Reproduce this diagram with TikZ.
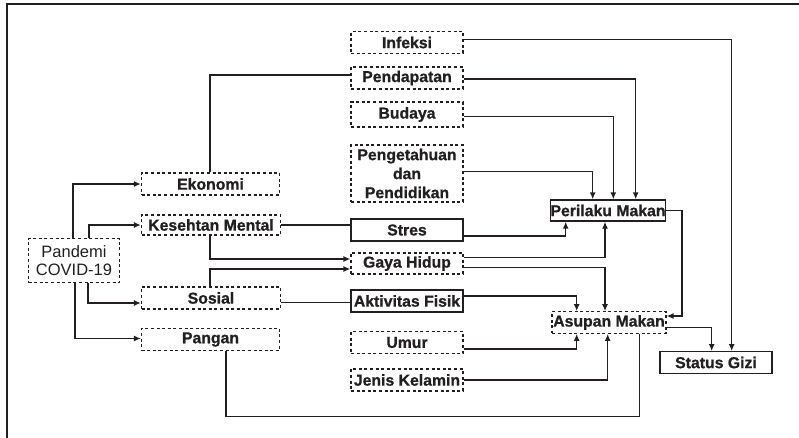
\documentclass[tikz,border=0pt]{standalone}
\usepackage{fontspec}
\setmainfont{Liberation Sans}
\newfontface\heavyface{Liberation Sans Bold}[FakeBold=0.9]
\usetikzlibrary{arrows.meta}
\definecolor{ink}{HTML}{231F20}
\newcommand\lab{\fontsize{15.8}{19}\selectfont\heavyface}
\newcommand\reg{\fontsize{16.5}{18.3}\selectfont}
\tikzset{
  dbox/.style={draw=ink, text=ink, dash pattern=on 3pt off 2.6pt, line width=1.2pt, inner sep=0pt, font=\lab, align=center},
  sbox/.style={draw=ink, text=ink, line width=1.3pt, inner sep=0pt, font=\lab, align=center},
  arr/.style={draw=ink, -{Latex[length=7pt,width=6pt]}, line width=1.4pt},
  con/.style={draw=ink, line width=1.4pt}
}
\begin{document}
\begin{tikzpicture}[x=1pt,y=-1pt]
\useasboundingbox (0,0) rectangle (799,437);
\draw[ink, line width=1.6pt] (7,440) -- (7,4) -- (802,4);

% middle column
\node[dbox, minimum width=112pt, minimum height=21.5pt] (infeksi) at (407,42.5) {Infeksi};
\node[dbox, minimum width=112pt, minimum height=22pt] (pendapatan) at (407,78) {Pendapatan};
\node[dbox, minimum width=112pt, minimum height=25pt] (budaya) at (407,114.5) {Budaya};
\node[dbox, minimum width=112pt, minimum height=57pt] (pengetahuan) at (407,173.5) {Pengetahuan\\dan\\Pendidikan};
\node[sbox, minimum width=112pt, minimum height=22pt] (stres) at (407,230) {Stres};
\node[dbox, minimum width=112pt, minimum height=21pt] (gaya) at (407,263.5) {Gaya Hidup};
\node[sbox, minimum width=112pt, minimum height=22pt] (aktivitas) at (407,301) {Aktivitas Fisik};
\node[dbox, minimum width=112pt, minimum height=22pt] (umur) at (407,342.5) {Umur};
\node[dbox, minimum width=112pt, minimum height=22pt] (jenis) at (407,380) {Jenis Kelamin};

% left column
\node[dbox, minimum width=138pt, minimum height=22pt] (ekonomi) at (210.5,184) {Ekonomi};
\node[dbox, minimum width=139pt, minimum height=20pt] (kesehatan) at (211,225) {Kesehtan Mental};
\node[dbox, minimum width=139pt, minimum height=22pt] (sosial) at (211,298) {Sosial};
\node[dbox, minimum width=138pt, minimum height=22pt] (pangan) at (210.5,339.5) {Pangan};
\node[dbox, font=\reg, minimum width=91pt, minimum height=44pt] (pandemi) at (74,260.5) {Pandemi\\COVID-19};

% right side
\node[sbox, minimum width=112pt, minimum height=21pt] (perilaku) at (608,210.5) {Perilaku Makan};
\node[dbox, minimum width=114pt, minimum height=21.5pt] (asupan) at (609,322.5) {Asupan Makan};
\node[sbox, minimum width=112pt, minimum height=21.5pt] (status) at (716,362.5) {Status Gizi};

% Pandemi branches
\draw[arr] ([xshift=-1pt]pandemi.north) |- (ekonomi.west);
\draw[arr] ([xshift=15pt]pandemi.north) |- (kesehatan.west);
\draw[arr] ([xshift=14pt]pandemi.south) |- ([yshift=-5pt]sosial.west);
\draw[arr] ([xshift=1pt]pandemi.south) |- ([yshift=1pt]pangan.west);

% left column to middle column
\draw[con] ([xshift=-0.5pt]ekonomi.north) |- ([yshift=3pt]pendapatan.west);
\draw[con] (kesehatan.east) -- (kesehatan.east -| stres.west);
\draw[arr] ([xshift=-1pt]kesehatan.south) |- ([yshift=4.5pt]gaya.west);
\draw[arr] ([xshift=-1pt]sosial.north) |- ([yshift=-5.5pt]gaya.west);
\draw[con] ([yshift=-4.5pt]sosial.east) -- ([yshift=-4.5pt]sosial.east -| aktivitas.west);
\coordinate (loopy) at (0,416.7);
\coordinate (asupB) at ([xshift=30.3pt]asupan.south);
\draw[con] ([xshift=15.5pt]pangan.south) |- (loopy -| asupB) -- (asupB);

% to Status Gizi
\draw[arr] ([yshift=3pt]infeksi.east) -| ([xshift=15.7pt]status.north);
\draw[arr] ([yshift=-4.8pt]asupan.east) -| ([xshift=-4.3pt]status.north);

% to Perilaku Makan
\draw[arr] ([yshift=-1pt]pendapatan.east) -| ([xshift=27.7pt]perilaku.north);
\draw[arr] ([yshift=-2pt]budaya.east) -| ([xshift=5.3pt]perilaku.north);
\draw[arr] ([yshift=1.8pt]pengetahuan.east) -| ([xshift=-15.3pt]perilaku.north);
\draw[arr] ([yshift=-6pt]stres.east) -| ([xshift=-42.3pt]perilaku.south);
\draw[arr] ([yshift=5.8pt]gaya.east) -| ([xshift=-3pt]perilaku.south);

% to Asupan Makan
\draw[arr] ([yshift=-3.8pt]gaya.east) -| ([xshift=-4pt]asupan.north);
\draw[arr] ([yshift=5pt]aktivitas.east) -| ([xshift=-32.3pt]asupan.north);
\draw[arr] ([yshift=-6.5pt]umur.east) -| ([xshift=-32.3pt]asupan.south);
\draw[arr] (jenis.east) -| ([xshift=-1.3pt]asupan.south);
\draw[arr] (perilaku.east) -- ++(16,0) |- ([yshift=6.5pt]asupan.east);
\end{tikzpicture}
\end{document}
